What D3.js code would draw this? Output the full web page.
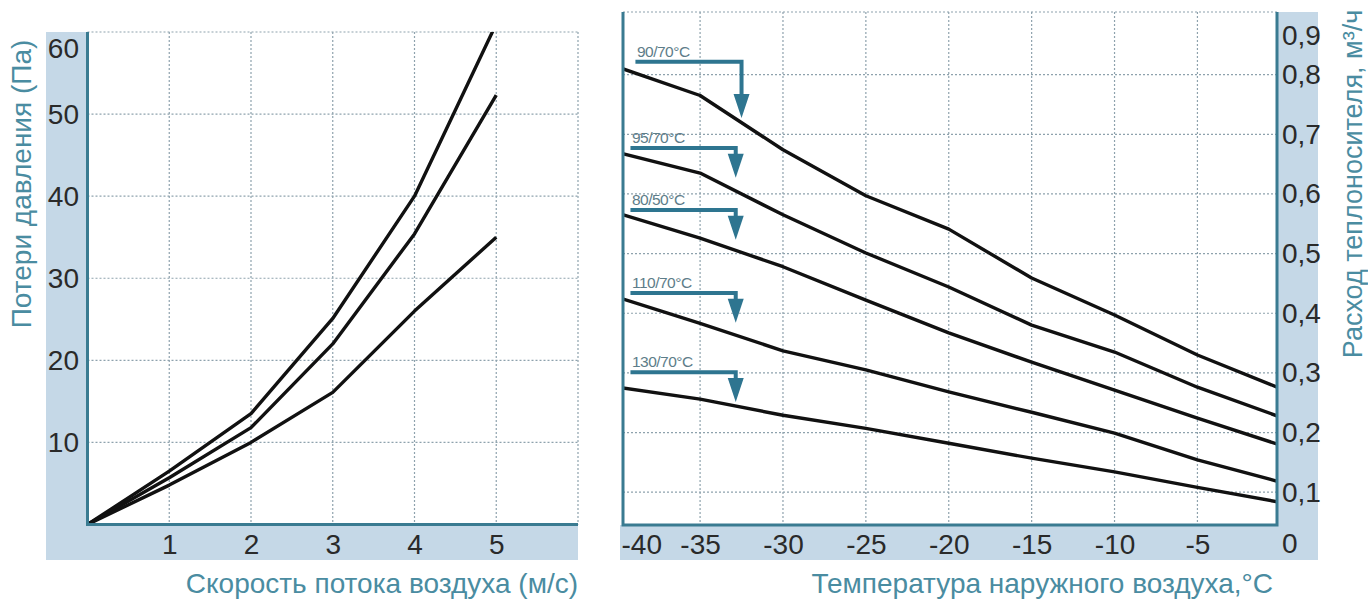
<!DOCTYPE html>
<html>
<head>
<meta charset="utf-8">
<script src="https://cdn.jsdelivr.net/npm/d3@7"></script>
<style>
  html, body { margin: 0; padding: 0; background: #fff; }
  svg { display: block; font-family: "Liberation Sans", Arial, sans-serif; }
</style>
</head>
<body>
<svg id="chart" width="1368" height="599"></svg>
<script>
// ---------- Pressure loss vs. air speed ----------
const airSpeed   = [0, 1, 2, 3, 4, 5];
const lossUpper  = [0, 6.5, 13.5, 25.1, 40.0, 61.0];
const lossMiddle = [0, 5.7, 11.8, 22.0, 35.4, 52.3];
const lossLower  = [0, 4.8, 10.0, 16.1, 26.0, 35.0];
const speedTicks = [1, 2, 3, 4, 5];
const speedGrid  = [1, 2, 3, 4, 5, 6];
const lossTicks  = [10, 20, 30, 40, 50, 60];

// ---------- Heat-carrier flow vs. outdoor temperature ----------
const outdoorTemp = [-40, -35, -30, -25, -20, -15, -10, -5, 0];
const flow9070  = [0.813, 0.765, 0.674, 0.597, 0.541, 0.459, 0.397, 0.330, 0.274];
const flow9570  = [0.670, 0.635, 0.565, 0.501, 0.444, 0.380, 0.335, 0.276, 0.226];
const flow8050  = [0.568, 0.526, 0.478, 0.422, 0.367, 0.318, 0.271, 0.224, 0.179];
const flow11070 = [0.427, 0.383, 0.337, 0.305, 0.268, 0.234, 0.199, 0.154, 0.117];
const flow13070 = [0.276, 0.256, 0.229, 0.207, 0.182, 0.157, 0.134, 0.108, 0.083];
const tempTicks = [-40, -35, -30, -25, -20, -15, -10, -5];
const tempGrid  = [-35, -30, -25, -20, -15, -10, -5];
const flowTicks = [0.1, 0.2, 0.3, 0.4, 0.5, 0.6, 0.7, 0.8, 0.9];
const flowGrid  = [0.1, 0.2, 0.3, 0.4, 0.5, 0.6, 0.7, 0.8];

// Regime callouts: label, level of the bar, arrow tip, arrow and bar-start temperature
const regimeLabels    = ['90/70°C', '95/70°C', '80/50°C', '110/70°C', '130/70°C'];
const regimeBarLevel  = [0.8215, 0.677, 0.573, 0.434, 0.301];
const regimeArrowTip  = [0.7275, 0.627, 0.523, 0.384, 0.251];
const regimeArrowTemp = [-32.5, -32.85, -32.85, -32.85, -32.85];
const regimeBarStart  = [-38.9, -39.2, -39.2, -39.2, -39.2];

// ---------- Styles ----------
const BAND = '#c5d8e7';
const AXIS = '#3a7b91';
const TITLE = '#4a8ca1';
const GRID = '#8ea2ad';
const CALLOUT = '#2e7590';
const CALLOUT_TEXT = '#5d7d89';
const TICK_TEXT = '#2a2a2a';
const FONT = 28;

const svg = d3.select('#chart');
svg.append('rect').attr('width', 1368).attr('height', 599).attr('fill', '#fff');

const fmtComma = d3.formatLocale({decimal: ',', thousands: ' ', grouping: [3], currency: ['', '']}).format('.1f');

// ================= LEFT CHART =================
const L = {left: 87.5, right: 578, top: 32, bottom: 524.5};
const lx = d3.scaleLinear().domain([0, 6]).range([L.left, L.right]);
const ly = d3.scaleLinear().domain([0, 60]).range([L.bottom, L.top]);

const gl = svg.append('g');
// bands
gl.append('rect').attr('x', 46).attr('y', L.top).attr('width', L.left - 46).attr('height', 560 - L.top).attr('fill', BAND);
gl.append('rect').attr('x', 46).attr('y', L.bottom).attr('width', L.right - 46).attr('height', 560 - L.bottom).attr('fill', BAND);

// grid
gl.append('g').selectAll('line').data(speedGrid).join('line')
  .attr('x1', d => lx(d)).attr('x2', d => lx(d))
  .attr('y1', L.top).attr('y2', L.bottom)
  .attr('stroke', GRID).attr('stroke-width', 1.2).attr('stroke-dasharray', '2,2');
gl.append('g').selectAll('line').data(lossTicks).join('line')
  .attr('x1', L.left).attr('x2', L.right)
  .attr('y1', d => ly(d)).attr('y2', d => ly(d))
  .attr('stroke', GRID).attr('stroke-width', 1.2).attr('stroke-dasharray', '2,2');

// curves
svg.append('clipPath').attr('id', 'clipL').append('rect')
  .attr('x', L.left).attr('y', L.top).attr('width', L.right - L.left).attr('height', L.bottom - L.top);
const lineL = d3.line().x((d, i) => lx(airSpeed[i])).y(d => ly(d));
gl.append('g').attr('clip-path', 'url(#clipL)').selectAll('path')
  .data([lossUpper, lossMiddle, lossLower]).join('path')
  .attr('d', lineL).attr('fill', 'none').attr('stroke', '#111')
  .attr('stroke-width', 3.4).attr('stroke-linejoin', 'round');

// axis lines
gl.append('path')
  .attr('d', `M${L.left},${L.top}V${L.bottom}H${L.right}`)
  .attr('fill', 'none').attr('stroke', AXIS).attr('stroke-width', 3);

// ticks
gl.append('g').attr('transform', `translate(0,${L.bottom})`)
  .call(d3.axisBottom(lx).tickValues(speedTicks).tickSize(0).tickPadding(9.5).tickFormat(d => String(d)));
const axLL = gl.append('g').attr('transform', `translate(79,0)`)
  .call(d3.axisLeft(ly).tickValues(lossTicks).tickSize(0).tickPadding(0).tickFormat(d => String(d)));
axLL.selectAll('.tick text').filter(d => d === 60).attr('dy', '0.9em');

// titles
gl.append('text').attr('x', L.right).attr('y', 593).attr('text-anchor', 'end')
  .attr('font-size', FONT).attr('fill', TITLE).text('Скорость потока воздуха (м/с)');
gl.append('text').attr('transform', 'translate(31,184) rotate(-90)').attr('text-anchor', 'middle')
  .attr('font-size', FONT).attr('fill', TITLE).text('Потери давления (Па)');

// ================= RIGHT CHART =================
const R = {left: 623, right: 1277, top: 12, bottom: 525};
const rx = d3.scaleLinear().domain([-39.65, -0.2]).range([R.left, R.right]);
const ry = d3.scaleLinear().domain([0.045, 0.905]).range([R.bottom, R.top]);

const gr = svg.append('g');
// bands
gr.append('rect').attr('x', 620).attr('y', R.bottom).attr('width', 1318 - 620).attr('height', 560 - R.bottom).attr('fill', BAND);
gr.append('rect').attr('x', R.right).attr('y', R.top).attr('width', 1318 - R.right).attr('height', 560 - R.top).attr('fill', BAND);

// grid
gr.append('g').selectAll('line').data(tempGrid).join('line')
  .attr('x1', d => rx(d)).attr('x2', d => rx(d))
  .attr('y1', R.top).attr('y2', R.bottom)
  .attr('stroke', GRID).attr('stroke-width', 1.2).attr('stroke-dasharray', '2,2');
gr.append('g').selectAll('line').data(flowGrid).join('line')
  .attr('x1', R.left).attr('x2', R.right)
  .attr('y1', d => ry(d)).attr('y2', d => ry(d))
  .attr('stroke', GRID).attr('stroke-width', 1.2).attr('stroke-dasharray', '2,2');
gr.append('line').attr('x1', R.left).attr('x2', R.right).attr('y1', R.top).attr('y2', R.top)
  .attr('stroke', GRID).attr('stroke-width', 1.2).attr('stroke-dasharray', '2,2');

// curves
svg.append('clipPath').attr('id', 'clipR').append('rect')
  .attr('x', R.left).attr('y', R.top).attr('width', R.right - R.left).attr('height', R.bottom - R.top);
const lineR = d3.line().x((d, i) => rx(outdoorTemp[i])).y(d => ry(d));
gr.append('g').attr('clip-path', 'url(#clipR)').selectAll('path')
  .data([flow9070, flow9570, flow8050, flow11070, flow13070]).join('path')
  .attr('d', lineR).attr('fill', 'none').attr('stroke', '#111')
  .attr('stroke-width', 3.4).attr('stroke-linejoin', 'round');

// callouts
const callouts = regimeLabels.map((label, i) => ({
  label, level: regimeBarLevel[i], tip: regimeArrowTip[i],
  temp: regimeArrowTemp[i], start: regimeBarStart[i]
}));
const cg = gr.append('g').selectAll('g').data(callouts).join('g');
cg.append('path')
  .attr('d', d => {
    const y0 = ry(d.level), yt = ry(d.tip), x1 = rx(d.temp);
    const headTop = yt - 22;
    return `M${rx(d.start)},${y0}H${x1}V${Math.max(headTop, y0)}`;
  })
  .attr('fill', 'none').attr('stroke', CALLOUT).attr('stroke-width', 4).attr('stroke-linejoin', 'miter');
cg.append('path')
  .attr('d', d => {
    const yt = ry(d.tip), x1 = rx(d.temp);
    return `M${x1 - 8},${yt - 24}L${x1 + 8},${yt - 24}L${x1},${yt}Z`;
  })
  .attr('fill', CALLOUT);
cg.append('text')
  .attr('x', d => rx(d.start) + 1.5).attr('y', d => ry(d.level) - 5)
  .attr('font-size', 15.5).attr('letter-spacing', '-0.5').attr('fill', CALLOUT_TEXT)
  .text(d => d.label);

// axis lines
gr.append('path')
  .attr('d', `M${R.left},${R.top}V${R.bottom}H${R.right}V${R.top}`)
  .attr('fill', 'none').attr('stroke', AXIS).attr('stroke-width', 3);

// ticks
const axRB = gr.append('g').attr('transform', `translate(0,${R.bottom})`)
  .call(d3.axisBottom(rx).tickValues(tempTicks).tickSize(0).tickPadding(9).tickFormat(d => String(d)));
axRB.selectAll('.tick text').filter(d => d === -40)
  .attr('text-anchor', 'start').attr('x', 621 - rx(-40));
const axRR = gr.append('g').attr('transform', `translate(1282,0)`)
  .call(d3.axisRight(ry).tickValues(flowTicks).tickSize(0).tickPadding(0).tickFormat(fmtComma));
axRR.selectAll('.tick text').filter(d => d === 0.9).attr('dy', '1.05em');
gr.append('text').attr('x', 1282).attr('y', 553).attr('font-size', FONT).attr('fill', TICK_TEXT).text('0');

// titles
gr.append('text').attr('x', 1273).attr('y', 593).attr('text-anchor', 'end')
  .attr('font-size', FONT).attr('fill', TITLE).text('Температура наружного воздуха,°C');
gr.append('text').attr('transform', 'translate(1362,184) rotate(-90)').attr('text-anchor', 'middle')
  .attr('font-size', 27).attr('fill', TITLE).text('Расход теплоносителя, м³/ч');

// shared tick styling
svg.selectAll('.domain').remove();
svg.selectAll('.tick text').attr('font-size', FONT).attr('fill', TICK_TEXT)
  .attr('font-family', '"Liberation Sans", Arial, sans-serif');
</script>
</body>
</html>
